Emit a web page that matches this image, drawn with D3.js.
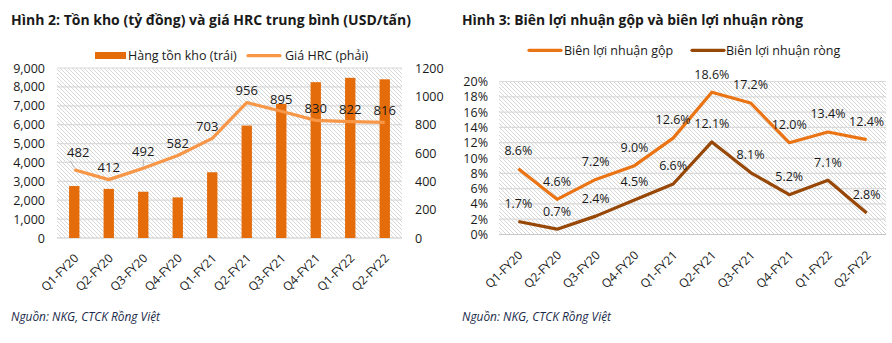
<!DOCTYPE html>
<html><head><meta charset="utf-8">
<script src="https://cdn.jsdelivr.net/npm/d3@7"></script>
<style>
body{margin:0;background:#fff;}
svg{display:block;font-family:"Open Sans",sans-serif;}
</style></head><body>
<svg id="c" width="892" height="343"></svg>
<script>
const quarters = ["Q1-FY20","Q2-FY20","Q3-FY20","Q4-FY20","Q1-FY21","Q2-FY21","Q3-FY21","Q4-FY21","Q1-FY22","Q2-FY22"];
const inventory = [2750, 2600, 2450, 2150, 3480, 5950, 7100, 8250, 8480, 8400];
const hrcPrice = [482, 412, 492, 582, 703, 956, 895, 830, 822, 816];
const grossMargin = [8.6, 4.6, 7.2, 9.0, 12.6, 18.6, 17.2, 12.0, 13.4, 12.4];
const netMargin = [1.7, 0.7, 2.4, 4.5, 6.6, 12.1, 8.1, 5.2, 7.1, 2.8];
const leftTicks = [0,1000,2000,3000,4000,5000,6000,7000,8000,9000];
const rightTicks = [0,200,400,600,800,1000,1200];
const pctTicks = [0,2,4,6,8,10,12,14,16,18,20];

const svg = d3.select("#c");
const defs = svg.append("defs");
const pat = defs.append("pattern").attr("id","hatch").attr("patternUnits","userSpaceOnUse")
  .attr("width",4).attr("height",4);
pat.append("rect").attr("width",4).attr("height",4).attr("fill","#fff");
pat.append("path").attr("d","M0,0L4,4M-1,3L1,5M3,-1L5,1").attr("stroke","#d2d2d2").attr("stroke-width",0.9);

const BAR = "#E46C0A", HRC = "#F79646", GROSS = "#EA7314", NET = "#974706", TXT = "#1a1a1a";

// ---------- Chart 1 ----------
const g1 = svg.append("g");
g1.append("text").attr("x",11).attr("y",25).attr("font-weight","bold").attr("font-size",14.5)
  .attr("fill",TXT).attr("textLength",400).attr("lengthAdjust","spacingAndGlyphs")
  .text("Hình 2: Tồn kho (tỷ đồng) và giá HRC trung bình (USD/tấn)");

const x1 = d3.scaleBand().domain(quarters).range([57,402]).paddingInner(0.7).paddingOuter(0.35);
const yL = d3.scaleLinear().domain([0,9000]).range([238,68]);
const yR = d3.scaleLinear().domain([0,1200]).range([238,68]);

g1.append("rect").attr("x",57).attr("y",68).attr("width",345).attr("height",170).attr("fill","url(#hatch)");
g1.append("g").selectAll("line").data(leftTicks).join("line")
  .attr("x1",57).attr("x2",402).attr("y1",d=>yL(d)).attr("y2",d=>yL(d))
  .attr("stroke",d=>d===0?"#c8c8c8":"#dadada").attr("stroke-width",1.2);

const axL = g1.append("g").attr("transform","translate(57,0)")
  .call(d3.axisLeft(yL).tickValues(leftTicks).tickFormat(d3.format(",")).tickSize(0).tickPadding(12));
axL.select(".domain").remove();
axL.selectAll("text").attr("font-size",12.5).attr("fill",TXT).attr("font-family","Open Sans");

const axR = g1.append("g").attr("transform","translate(402,0)")
  .call(d3.axisRight(yR).tickValues(rightTicks).tickFormat(d3.format("d")).tickSize(0).tickPadding(13));
axR.select(".domain").remove();
axR.selectAll("text").attr("font-size",12.5).attr("fill",TXT).attr("font-family","Open Sans");

g1.append("g").selectAll("rect").data(quarters).join("rect")
  .attr("x",d=>x1(d)).attr("width",x1.bandwidth())
  .attr("y",(d,i)=>yL(inventory[i])).attr("height",(d,i)=>yL(0)-yL(inventory[i]))
  .attr("fill",BAR);

const cx1 = d => x1(d) + x1.bandwidth()/2;
const line1 = d3.line().x((d,i)=>cx1(quarters[i])).y(d=>yR(d));
g1.append("path").datum(hrcPrice).attr("d",line1).attr("fill","none")
  .attr("stroke",HRC).attr("stroke-width",3.2).attr("stroke-linejoin","round");

// labels
const raised1 = {0:true, 2:true};
const lbl1 = g1.append("g");
hrcPrice.forEach((v,i)=>{
  const px = cx1(quarters[i]), py = yR(v);
  const off = raised1[i] ? 17 : 12;
  const dx = i===0 ? 4 : (i===4 ? -5 : 0);
  if (raised1[i]) {
    lbl1.append("line").attr("x1",px).attr("x2",px+(i===0?-4:0)).attr("y1",py-2).attr("y2",py-9)
      .attr("stroke","#a6a6a6").attr("stroke-width",0.8);
  }
  lbl1.append("text").attr("x",px+dx).attr("y",py-off).attr("dy","0.35em").attr("text-anchor","middle")
    .attr("font-size",13).attr("fill",TXT).text(v);
});

g1.append("g").selectAll("text").data(quarters).join("text")
  .attr("transform",d=>`translate(${cx1(d)+5},259) rotate(-45)`)
  .attr("text-anchor","end").attr("font-size",12).attr("fill",TXT).text(d=>d);

// legend 1
g1.append("rect").attr("x",95).attr("y",52).attr("width",31).attr("height",7).attr("fill",BAR);
g1.append("text").attr("x",128).attr("y",60).attr("font-size",12.5).attr("fill",TXT).text("Hàng tồn kho (trái)");
g1.append("line").attr("x1",248).attr("x2",280).attr("y1",55.7).attr("y2",55.7).attr("stroke",HRC).attr("stroke-width",3.2).attr("stroke-linecap","round");
g1.append("text").attr("x",285).attr("y",60).attr("font-size",12.5).attr("fill",TXT).text("Giá HRC (phải)");

g1.append("text").attr("x",11).attr("y",321).attr("font-style","italic").attr("font-size",12)
  .attr("fill","#1a2a4a").attr("textLength",149).attr("lengthAdjust","spacingAndGlyphs").text("Nguồn: NKG, CTCK Rồng Việt");

// ---------- Chart 2 ----------
const g2 = svg.append("g");
g2.append("text").attr("x",462).attr("y",25).attr("font-weight","bold").attr("font-size",14.5)
  .attr("fill",TXT).attr("textLength",341).attr("lengthAdjust","spacingAndGlyphs")
  .text("Hình 3: Biên lợi nhuận gộp và biên lợi nhuận ròng");

const x2 = d3.scaleBand().domain(quarters).range([499,886]);
const cx2 = d => x2(d) + x2.bandwidth()/2;
const y2 = d3.scaleLinear().domain([0,20]).range([234.5,81.5]);

g2.append("rect").attr("x",499).attr("y",81.5).attr("width",387).attr("height",153).attr("fill","url(#hatch)");
g2.append("g").selectAll("line").data(pctTicks).join("line")
  .attr("x1",499).attr("x2",886).attr("y1",d=>y2(d)).attr("y2",d=>y2(d))
  .attr("stroke",d=>d===0?"#c8c8c8":"#dadada").attr("stroke-width",1.2);

const ax2 = g2.append("g").attr("transform","translate(499,0)")
  .call(d3.axisLeft(y2).tickValues(pctTicks).tickFormat(d=>d+"%").tickSize(0).tickPadding(11));
ax2.select(".domain").remove();
ax2.selectAll("text").attr("font-size",12.5).attr("fill",TXT).attr("font-family","Open Sans");

const line2 = d3.line().x((d,i)=>cx2(quarters[i])).y(d=>y2(d));
g2.append("path").datum(grossMargin).attr("d",line2).attr("fill","none")
  .attr("stroke",GROSS).attr("stroke-width",3.2).attr("stroke-linejoin","round");
g2.append("path").datum(netMargin).attr("d",line2).attr("fill","none")
  .attr("stroke",NET).attr("stroke-width",3.2).attr("stroke-linejoin","round");

const lbl2 = g2.append("g");
[grossMargin, netMargin].forEach(arr=>{
  arr.forEach((v,i)=>{
    lbl2.append("text").attr("x",cx2(quarters[i])).attr("y",y2(v)-18).attr("dy","0.35em")
      .attr("text-anchor","middle").attr("font-size",12.5).attr("fill",TXT).text(v.toFixed(1)+"%");
  });
});

g2.append("g").selectAll("text").data(quarters).join("text")
  .attr("transform",d=>`translate(${cx2(d)+5},256) rotate(-45)`)
  .attr("text-anchor","end").attr("font-size",12).attr("fill",TXT).text(d=>d);

g2.append("line").attr("x1",529).attr("x2",561).attr("y1",50.3).attr("y2",50.3).attr("stroke",GROSS).attr("stroke-width",3.2).attr("stroke-linecap","round");
g2.append("text").attr("x",564).attr("y",55).attr("font-size",12.5).attr("fill",TXT).text("Biên lợi nhuận gộp");
g2.append("line").attr("x1",692).attr("x2",724).attr("y1",50.3).attr("y2",50.3).attr("stroke",NET).attr("stroke-width",3.2).attr("stroke-linecap","round");
g2.append("text").attr("x",726).attr("y",55).attr("font-size",12.5).attr("fill",TXT).text("Biên lợi nhuận ròng");

g2.append("text").attr("x",462).attr("y",321).attr("font-style","italic").attr("font-size",12)
  .attr("fill","#1a2a4a").attr("textLength",149).attr("lengthAdjust","spacingAndGlyphs").text("Nguồn: NKG, CTCK Rồng Việt");
</script>
</body></html>
